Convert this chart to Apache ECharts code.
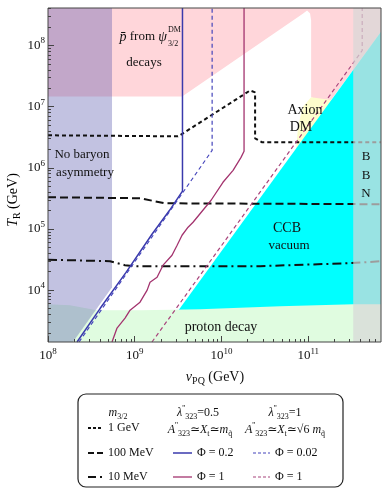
<!DOCTYPE html>
<html>
<head>
<meta charset="utf-8">
<script src="https://cdn.jsdelivr.net/npm/echarts@6/dist/echarts.min.js"></script>
<style>
html,body{margin:0;padding:0;background:#fff;}
#main{width:386px;height:499px;}
</style>
</head>
<body>
<div id="main"></div>
<script>
// axis ranges (v_PQ in GeV, T_R in GeV)
var xRange = [1e8, 6.9e11];
var yRange = [1.42e3, 4.1e8];
var xMajor = [1e8, 1e9, 1e10, 1e11];
var yMajor = [1e4, 1e5, 1e6, 1e7, 1e8];

// shaded regions, [v_PQ, T_R]
var pinkRegion = [[1e8,4.1e8],[1e8,1.47e7],[3.52e9,1.47e7],[8.74e10,3.33e8],[9.7e10,3.73e8],[1.05e11,3.33e8],
  [1.08e11,2.56e8],[1.08e11,1.42e7],[1.3e11,1.31e7],[1.79e11,1.22e7],[6.9e11,1.67e8],[6.9e11,4.1e8]];
var axionRegion = [[1.08e11,1.42e7],[2.04e11,1.26e7],[1.37e11,1.32e6],[7.24e10,1.93e6],[7.65e10,4.94e6],[8.74e10,1.01e7]];
var ccbRegion = [[1.73e9,1.42e3],[6.9e11,1.67e8],[6.9e11,1.42e3]];
var protonRegion = [[1e8,1.42e3],[1e8,5.9e3],[1.79e8,5.69e3],[3.67e8,4.71e3],[1.15e9,4.71e3],[5.66e9,4.89e3],
  [4.74e10,5.48e3],[3.3e11,5.9e3],[6.9e11,5.9e3],[6.9e11,1.42e3]];
var baryonRegion = [[1e8,4.1e8],[5.47e8,4.1e8],[5.47e8,1.12e4],[1.94e8,1.42e3],[1e8,1.42e3]];
var bbnRegion = [[3.3e11,1.42e3],[3.3e11,4.1e8],[6.9e11,4.1e8],[6.9e11,1.42e3]];

// m_3/2 curves
var gev1 = [[1e8,3.4e6],[3.15e9,3.27e6],[3.6e9,3.66e6],[2.14e10,1.84e7],[2.44e10,1.71e7],[2.44e10,3.03e6],[2.94e10,2.61e6],[6.9e11,2.61e6]];
var mev100 = [[1e8,3.3e5],[1.15e9,3.18e5],[2.23e9,2.63e5],[6.9e11,2.54e5]];
var mev10 = [[1e8,3.15e4],[5.19e8,2.97e4],[7.7e8,2.56e4],[1.0e9,2.47e4],[2.79e10,2.47e4],[3.04e11,2.76e4],[6.9e11,2.97e4]];

// Phi curves
var phi02 = [[2.16e8,1.42e3],[3.98e8,5.0e3],[7.94e8,1.95e4],[1.58e9,8.2e4],[2.51e9,2.0e5],[3.55e9,4.16e5],[3.55e9,4.1e8]];
var phi1a = [[5.47e8,1.42e3],[6.25e8,2.4e3],[7.73e8,3.49e3],[8.83e8,4.71e3],[1.15e9,6.36e3],[1.39e9,1.0e4],[1.5e9,1.35e4],
  [1.81e9,1.63e4],[2.12e9,2.56e4],[2.69e9,3.72e4],[3.08e9,5.43e4],[3.51e9,7.9e4],[4.12e9,1.07e5],[4.7e9,1.29e5],
  [7.59e9,2.95e5],[1.04e10,5.8e5],[1.36e10,9.1e5],[1.68e10,1.48e6],[1.82e10,1.86e6],[1.82e10,4.1e8]];
var phi002 = [[2.28e8,1.42e3],[7.8e9,1.93e6],[7.8e9,4.1e8]];
var phi1b = [[1.58e9,1.42e3],[4.19e11,8.28e7],[4.19e11,4.1e8]];

var xMinor = [], yMinor = [];
for (var d = 8; d <= 11; d++) for (var m = 2; m <= 9; m++) { if (m * Math.pow(10, d) < xRange[1]) xMinor.push(m * Math.pow(10, d)); }
for (var d = 3; d <= 8; d++) for (var m = 2; m <= 9; m++) { var v = m * Math.pow(10, d); if (v > yRange[0] && v < yRange[1]) yMinor.push(v); }

var serif = '"Liberation Serif","DejaVu Serif",serif';
var blue = '#3a3aac', purple = '#a3336e';

function region(name, pts, color, z) {
    return {
        type: 'custom', name: name, z: z, clip: true, silent: true,
        encode: {x: 0, y: 1},
        data: pts,
        renderItem: function (params, api) {
            if (params.dataIndex !== 0) return null;
            var p = pts.map(function (q) { return api.coord(q); });
            return {type: 'polygon', shape: {points: p}, style: {fill: color}};
        }
    };
}
function curve(name, pts, color, width, dash) {
    return {
        type: 'line', name: name, z: 3, data: pts, symbol: 'none', showSymbol: false, silent: true,
        lineStyle: {color: color, width: width, type: dash || 'solid'}
    };
}

var tickRich = {
    b: {fontSize: 13, fontFamily: serif, color: '#111', lineHeight: 18},
    e: {fontSize: 9, fontFamily: serif, color: '#111', verticalAlign: 'top', lineHeight: 10}
};
function powLabel(v) { return '{b|10}{e|' + Math.round(Math.log10(v)) + '}'; }

var txt = {
    i: {fontSize: 12, fontFamily: serif, fontStyle: 'italic', color: '#111', lineHeight: 16},
    n: {fontSize: 12, fontFamily: serif, color: '#111', lineHeight: 16},
    sp: {fontSize: 8, fontFamily: serif, color: '#111', verticalAlign: 'top', lineHeight: 9},
    sb: {fontSize: 8, fontFamily: serif, color: '#111', verticalAlign: 'bottom', lineHeight: 9}
};
var bigTxt = {
    i: {fontSize: 14, fontFamily: serif, fontStyle: 'italic', color: '#111', lineHeight: 18},
    n: {fontSize: 14, fontFamily: serif, color: '#111', lineHeight: 18},
    sb: {fontSize: 10, fontFamily: serif, color: '#111', verticalAlign: 'bottom', lineHeight: 11}
};
function label(x, y, text, size, extra) {
    var st = {text: text, x: x, y: y, fontSize: size || 13, fontFamily: serif, fill: '#111', align: 'center', verticalAlign: 'middle'};
    for (var k in extra) st[k] = extra[k];
    return {type: 'text', z: 100, silent: true, style: st};
}
function sample(x1, x2, y, color, w, dash) {
    return {type: 'line', z: 101, silent: true, shape: {x1: x1, y1: y, x2: x2, y2: y}, style: {stroke: color, lineWidth: w, lineDash: dash || null}};
}

var myChart = echarts.init(document.getElementById('main'));
var option = {
    animation: false,
    grid: {left: 48, top: 8, width: 333, height: 334, outerBoundsMode: 'none'},
    xAxis: [{
        type: 'log', logBase: 10, min: xRange[0], max: xRange[1], z: 20,
        axisLine: {show: false},
        axisTick: {inside: true, length: 6, customValues: xMajor, lineStyle: {color: '#444'}},
        axisLabel: {customValues: xMajor, formatter: powLabel, rich: tickRich, margin: 5},
        splitLine: {show: false}
    }, {
        type: 'log', logBase: 10, min: xRange[0], max: xRange[1], position: 'bottom', z: 20,
        axisLine: {show: false},
        axisTick: {inside: true, length: 3, customValues: xMinor, lineStyle: {color: '#444'}},
        axisLabel: {show: false}, splitLine: {show: false}
    }],
    yAxis: [{
        type: 'log', logBase: 10, min: yRange[0], max: yRange[1], z: 20,
        axisLine: {show: false},
        axisTick: {inside: true, length: 6, customValues: yMajor, lineStyle: {color: '#444'}},
        axisLabel: {customValues: yMajor, formatter: powLabel, rich: tickRich, margin: 3},
        splitLine: {show: false}
    }, {
        type: 'log', logBase: 10, min: yRange[0], max: yRange[1], position: 'left', z: 20,
        axisLine: {show: false},
        axisTick: {inside: true, length: 3, customValues: yMinor, lineStyle: {color: '#444'}},
        axisLabel: {show: false}, splitLine: {show: false}
    }],
    series: [
        region('pbar', pinkRegion, '#ffd6da', 2),
        region('axion', axionRegion, '#fdfdcc', 2),
        region('ccb', ccbRegion, '#00ffff', 2),
        region('proton', protonRegion, '#e0fce0', 2),
        region('baryon', baryonRegion, 'rgba(80,80,170,0.35)', 2),
        curve('1 GeV', gev1, '#111', 2, [4, 3]),
        curve('100 MeV', mev100, '#111', 2, [8, 4]),
        curve('10 MeV', mev10, '#111', 2, [9, 4, 2, 4]),
        curve('Phi 0.2', phi02, blue, 1.5),
        curve('Phi 1 a', phi1a, purple, 1.3),
        curve('Phi 0.02', phi002, '#4444bb', 1.2, [4, 3]),
        curve('Phi 1 b', phi1b, '#a8447c', 1.2, [4, 3]),
        region('bbn', bbnRegion, 'rgba(215,215,215,0.71)', 4)
    ],
    graphic: [
        {type: 'rect', z: 100, silent: true, shape: {x: 48, y: 8, width: 333, height: 334}, style: {fill: null, stroke: '#444', lineWidth: 1}},
        // region labels
        label(167, 37, '{i|p\u0304} {n|from} {i|\u03c8}', 13, {align: 'right', rich: {
            i: {fontSize: 14, fontFamily: serif, fontStyle: 'italic', color: '#111'},
            n: {fontSize: 13, fontFamily: serif, color: '#111'}}}),
        label(168, 30, 'DM', 8, {align: 'left'}),
        label(168, 44, '3/2', 8, {align: 'left'}),
        label(144, 63, 'decays', 13),
        label(82, 155, 'No baryon', 13),
        label(85, 173, 'asymmetry', 13),
        label(305, 110, 'Axion', 14),
        label(301, 127, 'DM', 14),
        label(366, 157, 'B', 13),
        label(366, 176, 'B', 13),
        label(366, 194, 'N', 13),
        label(287, 228, 'CCB', 14),
        label(289, 246, 'vacuum', 13),
        label(221, 327, 'proton decay', 14),
        // axis names
        label(215, 377, '{i|v}{sb|PQ}{n| (GeV)}', 14, {rich: bigTxt}),
        {type: 'text', z: 100, silent: true, x: 13, y: 200, rotation: Math.PI / 2,
         style: {text: '{i|T}{sb|R}{n| (GeV)}', rich: bigTxt, align: 'center', verticalAlign: 'middle'}},
        // legend box
        {type: 'rect', z: 99, silent: true, shape: {x: 78, y: 394, width: 265, height: 93, r: 8}, style: {fill: '#fff', stroke: '#222', lineWidth: 1.2}},
        label(118, 413, '{i|m}{sb|3/2}', 12, {rich: txt}),
        label(198, 413, '{i|\u03bb}{sp|\'\'}{sb|323}{n|=0.5}', 12, {rich: txt}),
        label(285, 413, '{i|\u03bb}{sp|\'\'}{sb|323}{n|=1}', 12, {rich: txt}),
        label(200, 430, '{i|A}{sp|\'\'}{sb|323}{n|\u2243}{i|X}{sb|t}{n|\u2243}{i|m}{sb|q\u0303}', 11, {rich: txt}),
        label(285, 430, '{i|A}{sp|\'\'}{sb|323}{n|\u2243}{i|X}{sb|t}{n|\u2243\u221a6 }{i|m}{sb|q\u0303}', 11, {rich: txt}),
        sample(88, 103, 428, '#111', 2, [3, 2]),
        label(108, 428, '1 GeV', 12, {align: 'left'}),
        sample(88, 103, 453, '#111', 2, [6, 3]),
        label(108, 453, '100 MeV', 12, {align: 'left'}),
        sample(88, 96, 477, '#111', 2),
        sample(100, 102, 477, '#111', 2),
        label(108, 477, '10 MeV', 12, {align: 'left'}),
        sample(173, 192, 453, blue, 1.5),
        label(197, 453, '\u03a6 = 0.2', 12, {align: 'left'}),
        sample(173, 192, 477, purple, 1.3),
        label(197, 477, '\u03a6 = 1', 12, {align: 'left'}),
        sample(253, 270, 453, '#4444bb', 1.2, [3, 2]),
        label(275, 453, '\u03a6 = 0.02', 12, {align: 'left'}),
        sample(253, 270, 477, '#a8447c', 1.2, [3, 2]),
        label(275, 477, '\u03a6 = 1', 12, {align: 'left'})
    ]
};
myChart.setOption(option);
</script>
</body>
</html>
